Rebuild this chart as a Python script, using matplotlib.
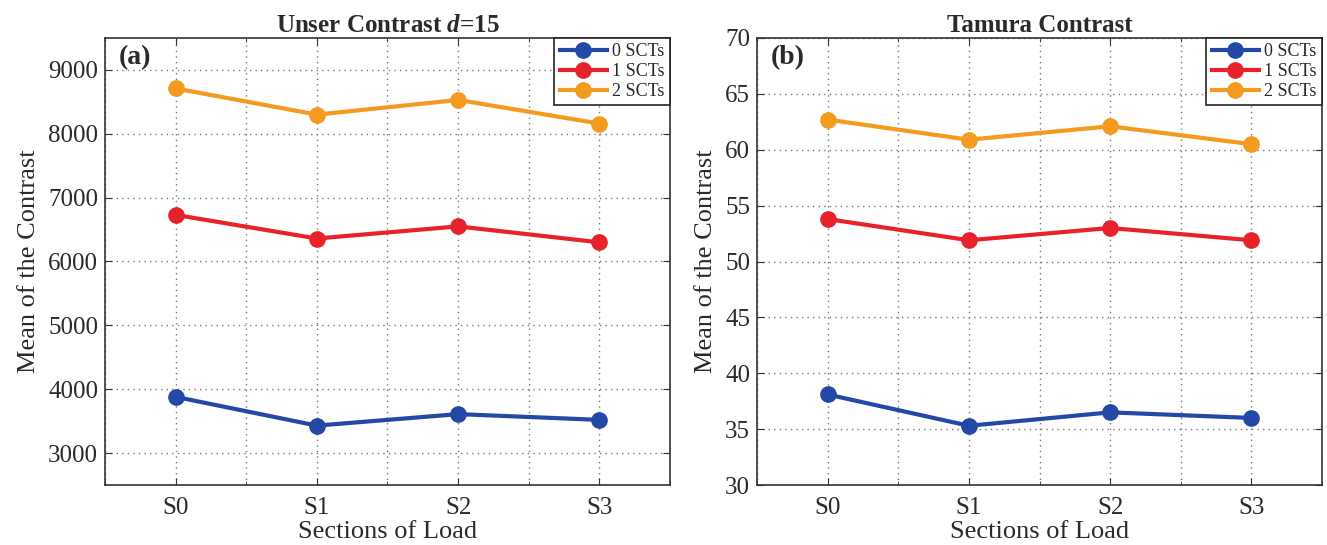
import matplotlib
matplotlib.use("Agg")
import matplotlib.pyplot as plt
from matplotlib.ticker import MultipleLocator

plt.rcParams['font.family'] = ['Liberation Serif', 'DejaVu Serif']
plt.rcParams['mathtext.fontset'] = 'custom'
plt.rcParams['mathtext.it'] = 'Liberation Serif:bold:italic'
plt.rcParams['mathtext.rm'] = 'Liberation Serif:bold'

sections = ["S0", "S1", "S2", "S3"]
series_names = ["0 SCTs", "1 SCTs", "2 SCTs"]
colors = ["#2348A6", "#E8222B", "#F39A1F"]

unser_0 = [3880, 3430, 3610, 3520]
unser_1 = [6730, 6360, 6550, 6300]
unser_2 = [8710, 8300, 8530, 8160]

tamura_0 = [38.1, 35.3, 36.5, 36.0]
tamura_1 = [53.8, 51.9, 53.0, 51.9]
tamura_2 = [62.7, 60.9, 62.1, 60.5]

panels = [
    dict(title="Unser Contrast $d$=15", tag="(a)", data=[unser_0, unser_1, unser_2],
         ylim=(2500, 9500), yticks=[3000, 4000, 5000, 6000, 7000, 8000, 9000]),
    dict(title="Tamura Contrast", tag="(b)", data=[tamura_0, tamura_1, tamura_2],
         ylim=(30, 70), yticks=[30, 35, 40, 45, 50, 55, 60, 65, 70]),
]

fig = plt.figure(figsize=(13.27, 5.45), dpi=100)
lefts = [105 / 1327, 757 / 1327]
W = 565 / 1327
B = 60 / 545
H = 447 / 545
txt = "#2a2a2a"
gridstyle = dict(linestyle=(0, (1, 3)), color='#777777', lw=1.0)

for left, p in zip(lefts, panels):
    ax = fig.add_axes([left, B, W, H])
    x = list(range(len(sections)))
    for vals, name, c in zip(p["data"], series_names, colors):
        ax.plot(x, vals, '-o', color=c, lw=3.0, ms=11, label=name, zorder=3)
    ax.set_xlim(-0.5, 3.5)
    ax.set_ylim(*p["ylim"])
    ax.set_xticks(x)
    ax.set_xticklabels(sections)
    ax.xaxis.set_minor_locator(MultipleLocator(0.5))
    ax.set_yticks(p["yticks"])
    ax.grid(True, which='major', **gridstyle)
    ax.grid(True, which='minor', axis='x', **gridstyle)
    ax.tick_params(which='both', direction='in', top=True, right=True,
                   labelsize=18, colors='#333333', labelcolor=txt)
    ax.tick_params(axis='y', pad=5)
    ax.tick_params(axis='x', pad=9)
    ax.tick_params(which='major', length=5)
    ax.tick_params(which='minor', length=3)
    for s in ax.spines.values():
        s.set_color('#333333')
        s.set_linewidth(1.2)
    ax.set_xlabel("Sections of Load", fontsize=19, color=txt, labelpad=1)
    ax.set_ylabel("Mean of the Contrast", fontsize=19, color=txt, labelpad=6)
    ax.set_title(p["title"], fontsize=18, fontweight='bold', color=txt, pad=4)
    ax.text(0.025, 0.985, p["tag"], transform=ax.transAxes, fontsize=20,
            fontweight='bold', color=txt, va='top', ha='left')
    leg = ax.legend(loc='upper right', borderaxespad=0, fontsize=13,
                    frameon=True, fancybox=False, handlelength=2.6,
                    handletextpad=0.3, borderpad=0.3, labelspacing=0.15)
    leg.get_frame().set_edgecolor('#222222')
    leg.get_frame().set_linewidth(1.2)
    leg.get_frame().set_alpha(1)
    for t in leg.get_texts():
        t.set_color(txt)

fig.savefig("out.png", dpi=100)
